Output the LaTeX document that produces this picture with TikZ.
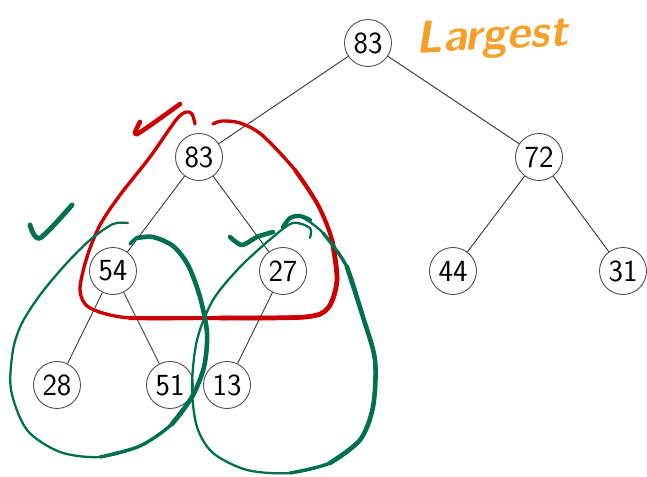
\documentclass[tikz,border=0pt]{standalone}
\definecolor{markred}{RGB}{204,0,0}
\definecolor{markgreen}{RGB}{0,112,80}
\definecolor{markorange}{RGB}{245,160,40}
\begin{document}
\begin{tikzpicture}[x=0.02cm,y=-0.02cm,
  key/.style={circle,draw=black!70,line width=.5pt,fill=white,minimum size=0.94cm,inner sep=0pt,font=\sffamily\fontsize{17.5}{20}\selectfont},
  pen/.style={line cap=round,line join=round}]
\useasboundingbox (0,0) rectangle (647,477);

\node[key] (top) at (368,43) {83};
\node[key] (n83) at (199,157) {83};
\node[key] (n72) at (539,157) {72};
\node[key] (n54) at (113,271) {54};
\node[key] (n27) at (283,271) {27};
\node[key] (n44) at (453,271) {44};
\node[key] (n31) at (623,271) {31};
\node[key] (n28) at (57,385) {28};
\node[key] (n51) at (170,385) {51};
\node[key] (n13) at (227,385) {13};

\foreach \a/\b in {top/n83,top/n72,n83/n54,n83/n27,n72/n44,n72/n31,n54/n28,n54/n51,n27/n13} {
  \draw[black!80,line width=.5pt] (\a) -- (\b);
}

\node[text=markorange,font=\sffamily\bfseries\itshape\fontsize{26}{28}\selectfont,rotate=3] (largest) at (492,38) {Largest};

\draw[pen,markred,line width=2.6pt] plot[smooth] coordinates {(140,122)(137,134)(180,104)};
\draw[pen,markred,line width=1.9pt] plot[smooth] coordinates {(195,124)(192,114)(186,112)(176,120)(150,157)(120,195)(100,225)(87,257)(80,290)(90,308)(130,318)(220,318)(305,317)(328,308)(337,280)(332,240)(318,205)(295,170)(262,135)(240,123)(222,121)(213,124)};
\draw[pen,markred,line width=2.3pt] plot[smooth] coordinates {(130,318)(220,318)(305,317)(328,308)(337,280)(332,240)(318,205)(295,170)};
\draw[pen,markred,line width=2.7pt] plot[smooth] coordinates {(220,318)(305,317)(328,308)(337,280)(332,240)};

\draw[pen,markgreen,line width=2.8pt] plot[smooth] coordinates {(30,225)(40,238)(72,205)};
\draw[pen,markgreen,line width=1.3pt] plot[smooth] coordinates {(130,244)(137,238)(153,237)(173,246)(188,265)(200,297)(207,333)(204,367)(192,397)(172,424)(140,446)(100,457)(60,452)(27,430)(11,390)(13,350)(22,323)(40,295)(65,265)(90,240)(113,224)(128,223)};
\draw[pen,markgreen,line width=1.9pt] plot[smooth] coordinates {(130,244)(137,238)(153,237)(173,246)(188,265)(200,297)(207,333)(204,367)(192,397)(172,424)(140,446)(100,457)};
\draw[pen,markgreen,line width=2.6pt] plot[smooth] coordinates {(137,238)(153,237)(173,246)(188,265)(200,297)(207,333)(204,367)(192,397)(172,424)};

\draw[pen,markgreen,line width=2.6pt] plot[smooth] coordinates {(230,237)(242,245)(257,237)(273,232)};
\draw[pen,markgreen,line width=1.3pt] plot[smooth] coordinates {(283,227)(290,218)(300,216)(323,233)(347,267)(363,317)(375,360)(373,407)(360,440)(330,463)(290,473)(247,470)(213,453)(197,427)(192,387)(197,340)(213,300)(240,267)(273,237)(293,223)(310,228)(310,238)};
\draw[pen,markgreen,line width=1.9pt] plot[smooth] coordinates {(323,233)(347,267)(363,317)(375,360)(373,407)(360,440)(330,463)(290,473)};
\draw[pen,markgreen,line width=2.6pt] plot[smooth] coordinates {(347,267)(363,317)(375,360)(373,407)(360,440)(330,463)};
\draw[pen,markgreen,line width=2.4pt] plot[smooth] coordinates {(283,227)(290,218)(300,216)(310,220)};
\end{tikzpicture}
\end{document}
